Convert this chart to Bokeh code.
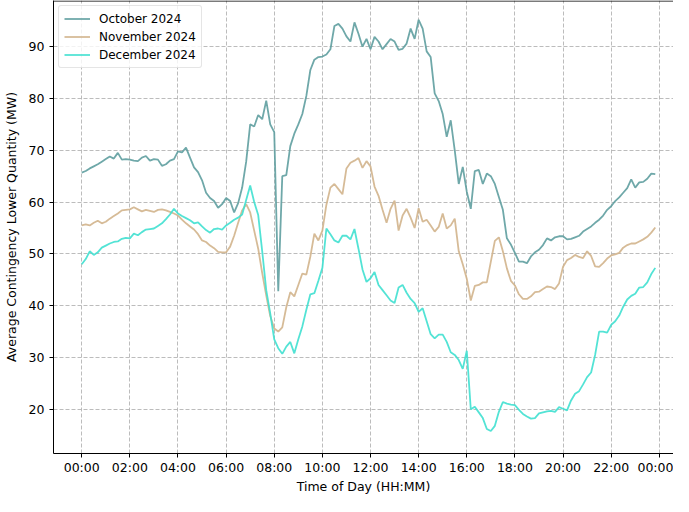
import numpy as np
from bokeh.plotting import figure
from bokeh.models import FixedTicker, Range1d, Span
from bokeh.embed import file_html
from bokeh.resources import INLINE

# time of day in hours (10-minute steps)
minutes = np.arange(0, 1440, 10)
hours = minutes / 60.0

october = [
    65.7, 66.0, 66.5, 66.9, 67.3, 67.8,
    68.3, 68.8, 68.4, 69.5, 68.2, 68.3,
    68.2, 68.0, 67.9, 68.6, 68.9, 68.0,
    68.3, 68.2, 67.0, 67.3, 68.0, 68.3,
    69.8, 69.6, 70.5, 68.6, 66.7, 65.8,
    64.2, 61.8, 60.8, 60.2, 58.9, 59.6,
    60.8, 60.2, 58.0, 59.8, 62.8, 67.8,
    75.0, 74.6, 76.8, 76.0, 79.6, 75.0,
    73.5, 42.8, 65.0, 65.2, 70.8, 73.2,
    75.0, 77.0, 80.5, 85.5, 87.5, 88.0,
    88.1, 88.5, 89.5, 94.0, 94.4, 93.5,
    92.0, 91.0, 94.7, 92.5, 90.0, 91.5,
    89.5, 91.9, 91.0, 89.5, 90.5, 91.5,
    91.0, 89.4, 89.6, 90.6, 93.5, 91.5,
    95.2, 93.5, 89.1, 88.0, 81.0, 79.5,
    77.0, 72.6, 75.8, 70.0, 63.5, 66.8,
    62.0, 58.7, 66.0, 66.2, 63.5, 65.5,
    65.0, 63.5, 61.0, 58.5, 53.0, 51.8,
    50.2, 48.5, 48.5, 48.2, 49.5, 50.3,
    50.8, 51.7, 53.0, 52.6, 53.2, 53.4,
    53.4, 52.8, 52.9, 53.2, 53.5, 54.3,
    54.8, 55.3, 56.0, 56.6, 57.4, 58.5,
    59.2, 60.2, 60.9, 61.8, 62.7, 64.4,
    62.8, 63.8, 63.9, 64.5, 65.5, 65.4,
]

november = [
    55.5, 55.7, 55.5, 56.0, 56.4, 55.9,
    56.2, 56.8, 57.3, 57.8, 58.4, 58.5,
    58.6, 59.0, 58.6, 58.2, 58.5, 58.3,
    58.1, 58.5, 58.6, 58.4, 58.1, 57.8,
    57.4, 56.6, 55.9, 55.3, 54.7, 53.8,
    52.6, 52.3, 51.6, 51.1, 50.4, 50.3,
    50.3, 51.4, 53.5, 56.0, 58.4, 59.6,
    58.0, 54.5, 51.0, 46.3, 42.0, 38.0,
    35.6, 35.0, 35.8, 39.7, 42.6, 41.8,
    44.0, 46.2, 46.0, 49.5, 53.9, 52.6,
    54.5, 59.5, 62.8, 63.5, 62.5, 61.5,
    66.5, 67.6, 68.0, 68.5, 66.6, 67.9,
    66.9, 63.0, 61.2, 58.5, 56.0, 58.7,
    60.3, 54.5, 57.4, 58.7, 57.0, 55.0,
    58.8, 56.2, 56.6, 55.5, 54.3, 55.2,
    57.8, 54.9, 55.5, 56.8, 50.5, 48.0,
    45.2, 41.0, 43.8, 44.0, 44.5, 44.5,
    48.5, 52.5, 53.2, 50.5, 47.2, 44.8,
    43.9, 42.2, 41.3, 41.3, 41.8, 42.6,
    42.7, 43.2, 43.7, 43.6, 43.2, 44.3,
    47.5, 48.8, 49.2, 49.8, 49.4, 49.2,
    50.5, 49.6, 47.6, 47.5, 48.2, 49.1,
    49.7, 49.9, 50.2, 51.2, 51.7, 52.0,
    52.0, 52.4, 52.8, 53.3, 54.1, 55.1,
]

december = [
    48.0, 49.0, 50.5, 49.8, 50.3, 51.2,
    51.6, 52.0, 52.3, 52.4, 52.9, 53.1,
    53.0, 53.9, 53.6, 54.2, 54.7, 54.8,
    54.9, 55.4, 55.9, 56.7, 57.6, 58.7,
    57.8, 57.3, 56.9, 56.5, 55.9, 56.1,
    55.3, 54.6, 54.1, 54.8, 54.9, 54.7,
    55.5, 56.0, 56.6, 57.0, 57.6, 60.4,
    63.2, 60.0, 57.5, 50.5, 43.0, 38.5,
    33.5, 31.8, 30.7, 32.1, 33.0, 30.8,
    33.5, 36.0, 39.2, 42.2, 42.4, 44.8,
    47.3, 54.9, 53.8, 52.6, 52.2, 53.5,
    53.5, 52.8, 54.8, 51.0, 47.0, 44.6,
    45.3, 46.5, 44.0, 43.0, 42.0, 41.0,
    40.5, 43.5, 44.0, 42.5, 41.3, 40.5,
    38.8, 39.5, 37.0, 34.5, 33.7, 34.4,
    34.4, 33.0, 31.0, 30.5, 29.5, 27.8,
    31.3, 20.0, 20.5, 19.4, 18.3, 16.2,
    15.8, 16.8, 19.5, 21.4, 21.1, 20.9,
    20.8, 19.9, 19.1, 18.6, 18.2, 18.3,
    19.2, 19.4, 19.6, 19.7, 19.5, 20.4,
    20.1, 19.8, 21.7, 23.0, 23.5, 24.8,
    26.2, 27.1, 30.5, 35.0, 35.0, 34.8,
    36.3, 37.0, 38.1, 39.8, 41.2, 41.9,
    42.3, 43.5, 43.6, 44.5, 46.1, 47.3,
]

series_names = ["October 2024", "November 2024", "December 2024"]
series_colors = ["#5F9EA0", "#D2B48C", "#40E0D0"]

x_tick_hours = [0, 2, 4, 6, 8, 10, 12, 14, 16, 18, 20, 22, 24]
x_tick_labels = ["00:00", "02:00", "04:00", "06:00", "08:00", "10:00", "12:00",
                 "14:00", "16:00", "18:00", "20:00", "22:00", "00:00"]
y_ticks = [20, 30, 40, 50, 60, 70, 80, 90]

X_START, X_END = -1.173, 24.59
Y_START, Y_END = 11.46, 98.92

FONT = "DejaVu Sans"

p = figure(width=673, height=496, output_backend="svg", toolbar_location=None,
           x_range=Range1d(X_START, X_END), y_range=Range1d(Y_START, Y_END),
           min_border_left=47, min_border_right=0, min_border_top=0,
           min_border_bottom=35)
p.outline_line_color = None
p.background_fill_color = "white"
p.border_fill_color = "white"

for vals, name, col in zip([october, november, december], series_names, series_colors):
    p.line(hours, vals, line_color=col, line_width=1.8, line_alpha=0.9,
           legend_label=name)

# top spine
p.add_layout(Span(location=Y_END - 0.1, dimension="width", line_color="black",
                  line_width=1))

for ax in (p.xaxis[0], p.yaxis[0]):
    ax.axis_line_color = "black"
    ax.axis_line_width = 1
    ax.major_tick_line_color = "black"
    ax.major_tick_out = 4
    ax.major_tick_in = 0
    ax.minor_tick_line_color = None
    ax.major_label_text_font = FONT
    ax.major_label_text_font_size = "12.5px"
    ax.major_label_text_color = "black"
    ax.axis_label_text_font = FONT
    ax.axis_label_text_font_size = "12.5px"
    ax.axis_label_text_font_style = "normal"
    ax.axis_label_text_color = "black"

p.xaxis.ticker = FixedTicker(ticks=x_tick_hours)
p.xaxis.major_label_overrides = {h: lab for h, lab in zip(x_tick_hours, x_tick_labels)}
p.xaxis.major_label_standoff = 2
p.xaxis.axis_label = "Time of Day (HH:MM)"
p.xaxis.axis_label_standoff = 1

p.yaxis.ticker = FixedTicker(ticks=y_ticks)
p.yaxis.major_label_standoff = 5
p.yaxis.axis_label = "Average Contingency Lower Quantity (MW)"
p.yaxis.axis_label_standoff = 7

p.xgrid.ticker = FixedTicker(ticks=x_tick_hours)
p.ygrid.ticker = FixedTicker(ticks=y_ticks)
for g in (p.xgrid[0], p.ygrid[0]):
    g.grid_line_color = "#b0b0b0"
    g.grid_line_alpha = 0.85
    g.grid_line_dash = "4 2"
    g.grid_line_width = 1

lg = p.legend[0]
lg.location = "top_left"
lg.margin = 5
lg.padding = 5
lg.spacing = 3
lg.glyph_width = 26
lg.glyph_height = 15
lg.label_height = 15
lg.label_standoff = 9
lg.label_text_font = FONT
lg.label_text_font_size = "12px"
lg.label_text_color = "black"
lg.border_line_color = "#cccccc"
lg.border_line_width = 1
lg.background_fill_color = "white"
lg.background_fill_alpha = 0.8
lg.border_radius = 3

open("out.html", "w").write(file_html(p, INLINE))
